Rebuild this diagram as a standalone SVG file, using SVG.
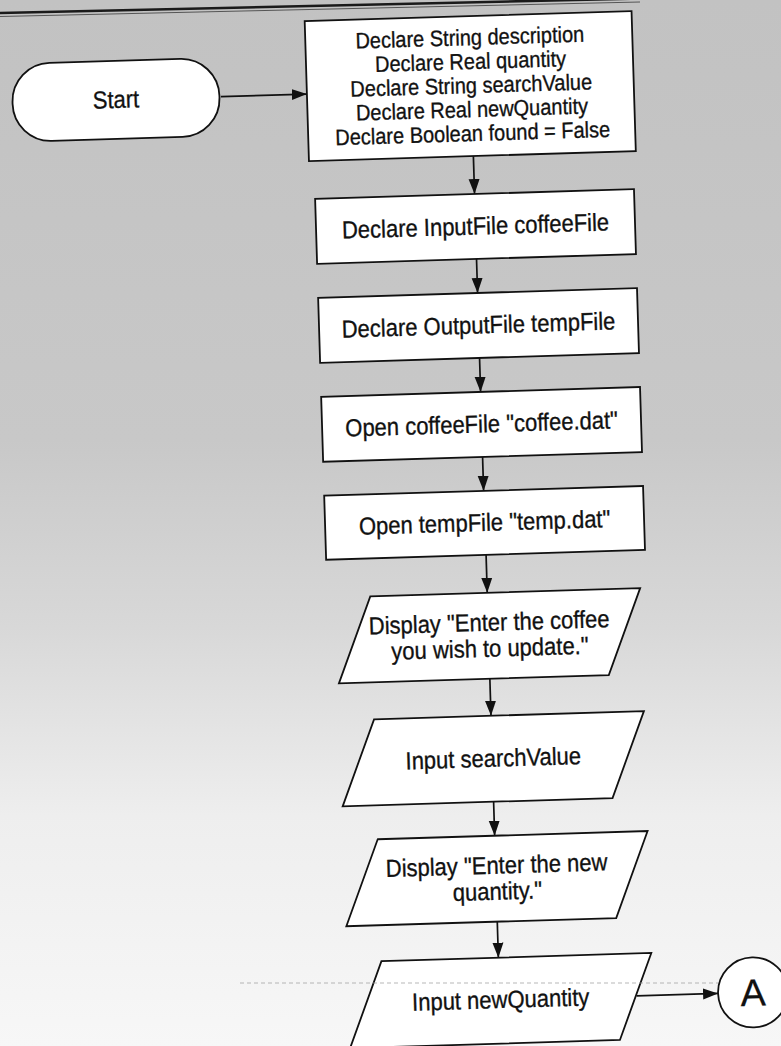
<svg xmlns="http://www.w3.org/2000/svg" width="781" height="1046" viewBox="0 0 781 1046">
<defs>
  <linearGradient id="bg" x1="0" y1="0" x2="0" y2="1">
    <stop offset="0" stop-color="#c2c2c2"/>
    <stop offset="0.42" stop-color="#c8c8c8"/>
    <stop offset="0.6" stop-color="#d8d8d8"/>
    <stop offset="0.78" stop-color="#eeeeee"/>
    <stop offset="1" stop-color="#f7f7f7"/>
  </linearGradient>
  <marker id="arr" markerUnits="userSpaceOnUse" markerWidth="16" markerHeight="12" refX="15" refY="6" orient="auto">
    <path d="M0,0.5 L15,6 L0,11.5 z" fill="#111"/>
  </marker>
</defs>
<style>
  .shape{fill:#fff;stroke:#111;stroke-width:1.8}
  .t{font-family:"Liberation Sans",Arial,sans-serif;font-size:22px;fill:#111;stroke:#111;stroke-width:0.3;text-anchor:middle}
  .s20{font-size:20px}
  .conn{stroke:#111;stroke-width:1.7;fill:none;marker-end:url(#arr)}
</style>
<rect x="0" y="0" width="781" height="1046" fill="url(#bg)"/>
<g id="page-rule">
  <line x1="0" y1="13" x2="640" y2="-1.5" stroke="#1a1a1a" stroke-width="2.6"/>
  <line x1="0" y1="16.5" x2="640" y2="2" stroke="#555" stroke-width="1"/>
</g>
<g transform="rotate(-1.75 480 520)">
  <g id="connectors">
    <path class="conn" d="M234,89 H320"/>
    <path class="conn" d="M484.5,156 V194"/>
    <path class="conn" d="M484.5,259 V293"/>
    <path class="conn" d="M484.5,358 V392"/>
    <path class="conn" d="M484.5,457 V491"/>
    <path class="conn" d="M485,555 V593"/>
    <path class="conn" d="M485,679 V716"/>
    <path class="conn" d="M485,802 V836"/>
    <path class="conn" d="M485,922 V958"/>
    <path class="conn" d="M622,1000.5 H703.5"/>
  </g>
  <g id="start">
    <rect class="shape" x="25.5" y="50" width="207" height="78" rx="38" ry="38"/>
    <text class="t" transform="translate(129 97) scale(1 1.12)">Start</text>
  </g>
  <g id="declare-vars">
    <rect class="shape" x="320" y="16" width="327" height="140"/>
    <text class="t s20" transform="translate(484.5 45) scale(1 1.12)">Declare String description</text>
    <text class="t s20" transform="translate(484.5 69) scale(1 1.12)">Declare Real quantity</text>
    <text class="t s20" transform="translate(484.5 93) scale(1 1.12)">Declare String searchValue</text>
    <text class="t s20" transform="translate(484.5 117) scale(1 1.12)">Declare Real newQuantity</text>
    <text class="t s20" transform="translate(484.5 141) scale(1 1.12)">Declare Boolean found = False</text>
  </g>
  <g id="declare-inputfile">
    <rect class="shape" x="325" y="194" width="319" height="65"/>
    <text class="t" transform="translate(484.5 234.5) scale(1 1.12)">Declare InputFile coffeeFile</text>
  </g>
  <g id="declare-outputfile">
    <rect class="shape" x="325" y="293" width="319" height="65"/>
    <text class="t" transform="translate(484.5 333.5) scale(1 1.12)">Declare OutputFile tempFile</text>
  </g>
  <g id="open-coffee">
    <rect class="shape" x="325" y="392" width="319" height="65"/>
    <text class="t" transform="translate(484.5 432.5) scale(1 1.12)">Open coffeeFile "coffee.dat"</text>
  </g>
  <g id="open-temp">
    <rect class="shape" x="325" y="491" width="319" height="64"/>
    <text class="t" transform="translate(484.5 531) scale(1 1.12)">Open tempFile "temp.dat"</text>
  </g>
  <g id="display-coffee">
    <polygon class="shape" points="368,593 638,593 604,679 334,679"/>
    <text class="t" transform="translate(486 631) scale(1 1.12)">Display "Enter the coffee</text>
    <text class="t" transform="translate(486 657) scale(1 1.12)">you wish to update."</text>
  </g>
  <g id="input-search">
    <polygon class="shape" points="368,716 638,716 604,802 334,802"/>
    <text class="t" transform="translate(486 767) scale(1 1.12)">Input searchValue</text>
  </g>
  <g id="display-quantity">
    <polygon class="shape" points="368,836 638,836 604,922 334,922"/>
    <text class="t" transform="translate(486 874) scale(1 1.12)">Display "Enter the new</text>
    <text class="t" transform="translate(486 900) scale(1 1.12)">quantity."</text>
  </g>
  <g id="input-newquantity">
    <polygon class="shape" points="368,958 638,958 604,1044 334,1044"/>
    <text class="t" transform="translate(486 1008.5) scale(1 1.12)">Input newQuantity</text>
  </g>
  <g id="connector-a">
    <circle class="shape" cx="738.5" cy="1000.5" r="35"/>
    <text class="t" x="738.5" y="1014" style="font-size:38px;stroke-width:0.2">A</text>
  </g>
</g>
<line x1="240" y1="983" x2="718" y2="983" stroke="#9a9a9a" stroke-width="1" stroke-dasharray="4 3" opacity="0.7"/>
</svg>
